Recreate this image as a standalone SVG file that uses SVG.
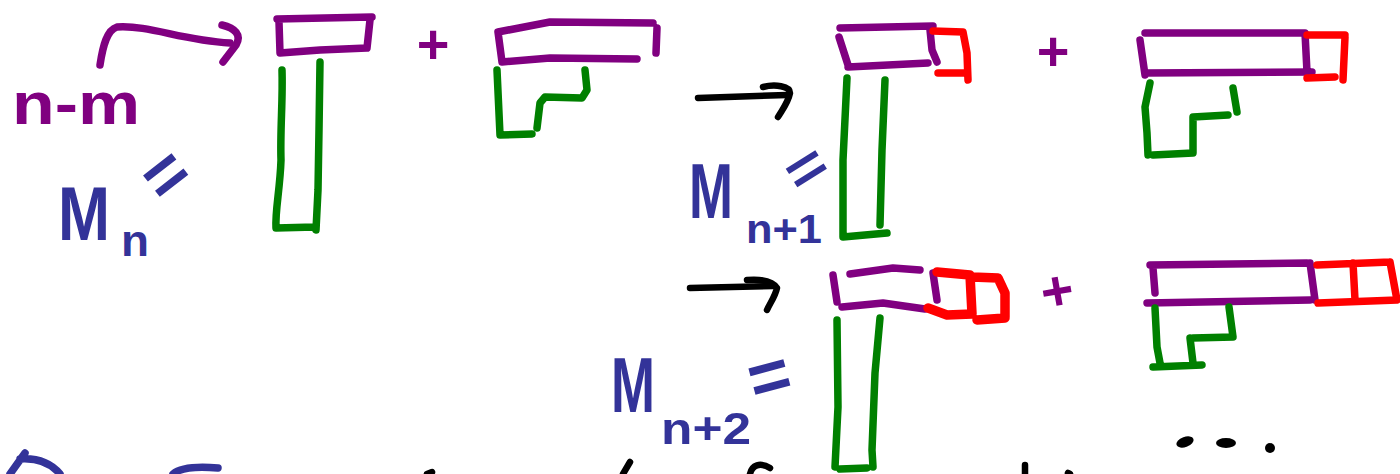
<svg xmlns="http://www.w3.org/2000/svg" width="1400" height="474" viewBox="0 0 1400 474">
<style>
path{fill:none;stroke-linecap:round;stroke-linejoin:round}
.p{stroke:#800080;stroke-width:7.5}
.g{stroke:#008000;stroke-width:7.5}
.r{stroke:#ff0000;stroke-width:7.5}
.r2{stroke:#ff0000;stroke-width:9.5}
.k{stroke:#000;stroke-width:6.5}
.b{stroke:#333399;stroke-width:7.5}
text{font-family:"Liberation Sans",Arial,sans-serif;font-weight:bold}
.tb{fill:#333399}
.tp{fill:#800080}
</style>
<rect width="1400" height="474" fill="#fff"/>

<g id="connectors">
  <g id="arrow-nm">
    <path class="p" d="M100,65 C103,45 107,30 117,27 C150,25 180,40 230,43"/>
    <path class="p" d="M222,25 C235,28 242,35 236,45 L223,62"/>
  </g>
  <g id="arrow-1">
    <path class="k" d="M698,98 L787,95"/>
    <path class="k" d="M763,87 C775,84 790,86 790,93 C788,103 782,110 778,117"/>
  </g>
  <g id="arrow-2">
    <path class="k" d="M690,288 L773,286"/>
    <path class="k" d="M747,280 C760,279 772,280 777,288 C775,297 770,303 767,310"/>
  </g>
</g>

<g id="label-nm">
  <text class="tp" x="12" y="124" font-size="60" textLength="128" lengthAdjust="spacingAndGlyphs">n-m</text>
</g>

<g id="label-Mn">
  <text class="tb" x="58" y="240" font-size="76" textLength="52" lengthAdjust="spacingAndGlyphs">M</text>
  <text class="tb" x="121" y="256" font-size="44" textLength="28" lengthAdjust="spacingAndGlyphs">n</text>
  <text class="tb" x="165" y="199" font-size="72" text-anchor="middle" transform="rotate(-38 165 174)">=</text>
</g>

<g id="block-Mn">
  <path class="p" d="M277,19 L372,17 M370,20 L367,48 M280,53 L320,50 L367,48 M279,22 L280,53"/>
  <path class="g" d="M282,70 C283,100 280,130 281,160 C280,190 275,210 276,228 L315,227 M320,62 L319,130 L318,190 L316,230"/>
</g>

<g id="plus-1">
  <text class="tp" x="433" y="63" font-size="56" text-anchor="middle">+</text>
</g>

<g id="term-1">
  <path class="p" d="M498,32 L550,22 L653,23 M657,28 L656,53 M498,32 L502,62 L550,58 L637,59"/>
  <path class="g" d="M497,70 L500,135 L532,134 M537,128 L540,103 L545,97 L582,98 L587,90 L585,70"/>
</g>

<g id="label-Mn1">
  <text class="tb" x="689" y="218" font-size="78" textLength="44" lengthAdjust="spacingAndGlyphs">M</text>
  <text class="tb" x="746" y="243" font-size="40" textLength="76" lengthAdjust="spacingAndGlyphs">n+1</text>
  <text class="tb" x="806" y="188" font-size="58" text-anchor="middle" transform="rotate(-32 806 168) translate(806 168) scale(1.2 1) translate(-806 -168)">=</text>
</g>

<g id="block-Mn1">
  <path class="p" d="M840,28 L933,26 M839,37 L848,65 M848,67 L928,63 M930,30 L932,50 L937,62"/>
  <path class="r" d="M933,31 L963,32 L967,53 L968,80 M938,73 L967,73"/>
  <path class="g" d="M847,78 L843,160 L843,237 L887,233 M885,80 L882,150 L880,225"/>
</g>

<g id="plus-2">
  <text class="tp" x="1053" y="70" font-size="56" text-anchor="middle">+</text>
</g>

<g id="term-2">
  <path class="p" d="M1145,33 L1305,33 M1140,40 L1145,75 M1145,73 L1312,72 M1305,33 L1307,72"/>
  <path class="r" d="M1307,35 L1345,35 M1345,37 L1343,80 M1307,78 L1335,77"/>
  <path class="g" d="M1150,83 L1145,107 L1147,133 L1148,155 M1153,155 L1193,153 L1193,117 L1228,115 M1233,88 L1237,112"/>
</g>

<g id="label-Mn2">
  <text class="tb" x="611" y="412" font-size="78" textLength="44" lengthAdjust="spacingAndGlyphs">M</text>
  <text class="tb" x="661" y="444" font-size="45" textLength="90" lengthAdjust="spacingAndGlyphs">n+2</text>
  <text class="tb" x="769" y="401" font-size="72" text-anchor="middle" transform="rotate(-15 769 376)">=</text>
</g>

<g id="block-Mn2">
  <path class="p" d="M833,275 L837,302 M850,274 L893,268 L920,270 M842,307 L883,303 L925,309 M933,273 L937,300"/>
  <path class="r2" d="M937,272 L970,275 M970,275 L972,314 M928,308 L947,315 L972,314 M972,277 L998,278 L1005,293 L1005,317 M977,320 L1005,318"/>
  <path class="g" d="M837,320 L838,407 L835,467 M880,318 L875,373 L872,450 L873,467 M840,469 L867,468"/>
</g>

<g id="plus-3">
  <text class="tp" x="1057" y="310" font-size="56" text-anchor="middle" transform="rotate(-10 1057 290)">+</text>
</g>

<g id="term-3">
  <path class="p" d="M1150,265 L1307,263 M1153,268 L1155,293 M1147,303 L1310,300 M1310,263 L1315,300"/>
  <path class="r" d="M1317,265 L1390,262 M1390,262 L1397,300 M1318,303 L1397,300 M1353,263 L1355,300"/>
  <path class="g" d="M1155,308 L1157,347 L1160,363 M1153,367 L1202,365 M1190,338 L1193,363 M1193,338 L1233,337 L1229,307"/>
</g>

<g id="ellipsis">
  <ellipse cx="1185" cy="442" rx="9" ry="5" transform="rotate(-20 1185 442)" fill="#000"/>
  <ellipse cx="1226" cy="443" rx="10" ry="5" fill="#000"/>
  <circle cx="1270" cy="448" r="5" fill="#000"/>
</g>

<g id="cut-off-bottom">
  <path class="b" d="M25,453 L10,474 M20,459 C35,458 50,462 60,474 M173,474 C180,468 195,466 218,468"/>
  <path class="k" d="M623,474 L630,462 M750,474 C752,465 760,462 770,468 M1025,465 L1025,474 M1068,473 L1070,474 M427,474 L432,472"/>
</g>
</svg>
